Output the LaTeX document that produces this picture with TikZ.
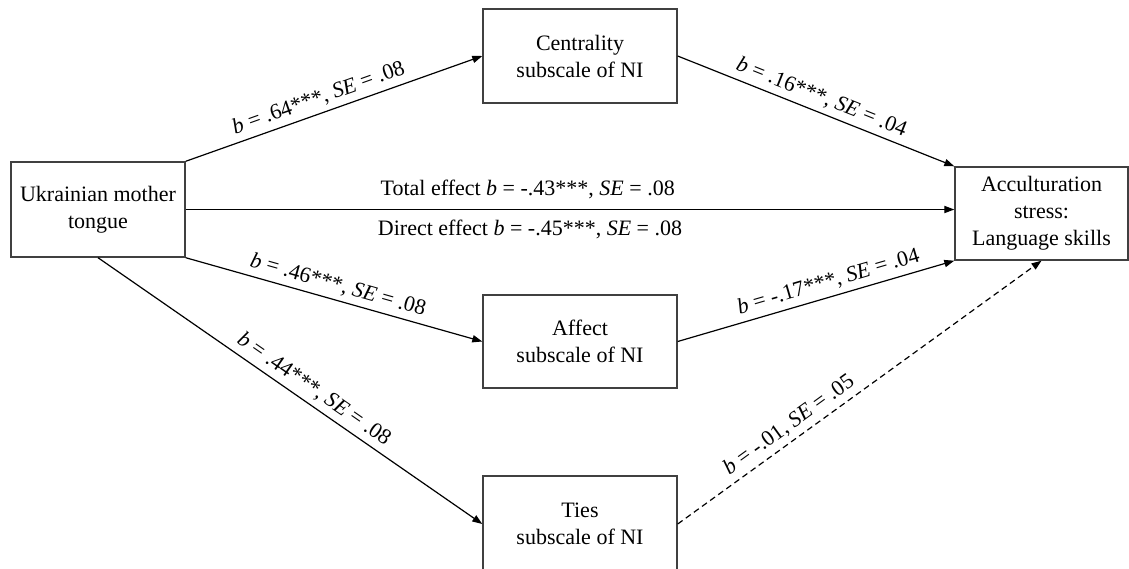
\documentclass[tikz,border=0pt]{standalone}
\usepackage{fontspec}
\setmainfont{Liberation Serif}
\usetikzlibrary{arrows.meta}

\begin{document}
\begin{tikzpicture}[%
        x = 0.5pt, y = -0.5pt,
        font = \fontsize{11}{13.5}\selectfont,
        box/.style = {draw=black!75, line width=0.7pt, align=center, inner sep=0pt},
        eff/.style = {line width=0.6pt, -{Triangle[length=5pt,width=3.6pt]}},
        lbl/.style = {sloped, above, inner sep=2.5pt}
    ]
      \useasboundingbox (0,0) rectangle (1129,568);
      \node[box, minimum width=87pt, minimum height=47.5pt] (ukr) at (98,209.5) {Ukrainian mother\\tongue};
      \node[box, minimum width=97pt, minimum height=47pt] (cen) at (580,56) {Centrality\\subscale of NI};
      \node[box, minimum width=97pt, minimum height=46.5pt] (aff) at (580,341.5) {Affect\\subscale of NI};
      \node[box, minimum width=97pt, minimum height=48pt] (ties) at (580,524) {Ties\\subscale of NI};
      \node[box, minimum width=86.5pt, minimum height=46.5pt] (acc) at (1041.5,213.5) {Acculturation\\stress:\\Language skills};
      \draw[eff] (ukr.north east) -- node[lbl, pos=0.465] {\textit{b} = .64***, \textit{SE} = .08} (cen.west);
      \draw[eff] (cen.east) -- node[lbl, pos=0.5] {\textit{b} = .16***, \textit{SE} = .04} (acc.north west);
      \draw[eff] (ukr.east) -- node[above, pos=0.445, inner sep=5pt] {Total effect \textit{b} = -.43***, \textit{SE} = .08}
        node[below, pos=0.448, inner sep=5pt] {Direct effect \textit{b} = -.45***, \textit{SE} = .08} (ukr.east -| acc.west);
      \draw[eff] (ukr.south east) -- node[lbl, pos=0.5] {\textit{b} = .46***, \textit{SE} = .08} (aff.west);
      \draw[eff] (aff.east) -- node[lbl, pos=0.56] {\textit{b} = -.17***, \textit{SE} = .04} (acc.south west);
      \draw[eff] (ukr.south) -- node[lbl, pos=0.54] {\textit{b} = .44***, \textit{SE} = .08} (ties.west);
      \draw[eff, dash pattern=on 3pt off 2pt] (ties.east) -- node[lbl, pos=0.33] {\textit{b} = -.01, \textit{SE} = .05} (acc.south);
    \end{tikzpicture}
\end{document}
